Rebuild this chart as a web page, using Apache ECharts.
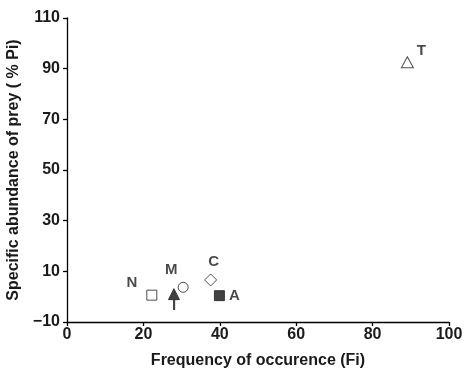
<!DOCTYPE html>
<html><head><meta charset="utf-8">
<script src="https://cdn.jsdelivr.net/npm/echarts@6/dist/echarts.min.js"></script>
<style>html,body{margin:0;padding:0;background:#fff}#c{width:465px;height:369px}</style>
</head><body><div id="c"></div>
<script>
var names = ['N', 'I', 'M', 'C', 'A', 'T'];
var freq = [22.2, 28.0, 30.4, 37.6, 39.9, 89.1];
var abund = [0.6, 1.0, 3.7, 6.6, 0.4, 92.5];
var xTicks = [0, 20, 40, 60, 80, 100];
var yTicks = [-10, 10, 30, 50, 70, 90, 110];

var markerStyle = {
  N: {symbol: 'rect', size: [10, 10], fill: '#fff'},
  I: {symbol: 'triangle', size: [11, 11], fill: '#111'},
  M: {symbol: 'circle', size: [10, 10], fill: '#fff'},
  C: {symbol: 'diamond', size: [12, 12], fill: '#fff'},
  A: {symbol: 'rect', size: [10, 10], fill: '#111'},
  T: {symbol: 'triangle', size: [12, 11], fill: '#fff'}
};
var labelOffset = {N: [-20, -12], I: [0, 12], M: [-12, -17], C: [3, -18], A: [15, 0], T: [14, -11]};

var font = 'Liberation Sans, Arial, sans-serif';
var series = names.map(function (n, i) {
  var m = markerStyle[n];
  return {
    type: 'scatter', name: n,
    data: [[freq[i], abund[i]]],
    symbol: m.symbol, symbolSize: m.size,
    itemStyle: {color: m.fill, borderColor: '#222', borderWidth: 1},
    label: {show: true, formatter: n, position: 'inside', offset: labelOffset[n],
      color: '#1a1a1a', fontWeight: 'bold', fontSize: 15, fontFamily: font},
    emphasis: {disabled: true}
  };
});

var chart = echarts.init(document.getElementById('c'));
chart.setOption({
  animation: false,
  grid: {left: 67, right: 16, top: 18, bottom: 47, containLabel: false, outerBoundsMode: 'none'},
  xAxis: {
    type: 'value', min: xTicks[0], max: xTicks[xTicks.length - 1], interval: xTicks[1] - xTicks[0],
    name: 'Frequency of occurence (Fi)', nameLocation: 'middle', nameGap: 31,
    nameTextStyle: {fontWeight: 'bold', fontSize: 16, color: '#1a1a1a', fontFamily: font},
    axisLine: {show: true, onZero: false, lineStyle: {color: '#000', width: 1.3}},
    axisTick: {show: true, length: 4, lineStyle: {color: '#000', width: 1.3}},
    axisLabel: {fontWeight: 'bold', fontSize: 16, color: '#1a1a1a', margin: 5, fontFamily: font},
    splitLine: {show: false}
  },
  yAxis: {
    type: 'value', min: yTicks[0], max: yTicks[yTicks.length - 1], interval: yTicks[1] - yTicks[0],
    name: 'Specific abundance of prey ( % Pi)', nameLocation: 'middle', nameGap: 42,
    nameTextStyle: {fontWeight: 'bold', fontSize: 16, color: '#1a1a1a', fontFamily: font},
    axisLine: {show: true, onZero: false, lineStyle: {color: '#000', width: 1.3}},
    axisTick: {show: true, length: 4, lineStyle: {color: '#000', width: 1.3}},
    axisLabel: {fontWeight: 'bold', fontSize: 16, color: '#1a1a1a', margin: 7, fontFamily: font,
      formatter: function (v) { return v < 0 ? '\u2212' + Math.abs(v) : String(v); }},
    splitLine: {show: false}
  },
  series: series
});
</script></body></html>
